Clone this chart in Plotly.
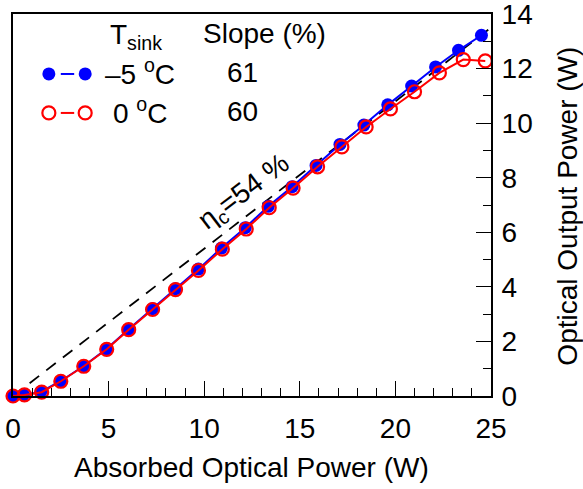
import plotly.graph_objects as go

# -5 C series (blue filled)
x_m5 = [0, 0.55, 1.45, 2.5, 3.7, 4.9, 6.05, 7.3, 8.5, 9.7, 10.9, 12.15, 13.35, 14.6, 15.85, 17.1, 18.35, 19.6, 20.85, 22.1, 23.3, 24.5]
y_m5 = [0, 0.04, 0.15, 0.55, 1.1, 1.73, 2.45, 3.2, 3.93, 4.65, 5.42, 6.17, 6.95, 7.67, 8.45, 9.22, 9.93, 10.67, 11.36, 12.06, 12.67, 13.22]
# 0 C series (red open)
x_0 = [0, 0.6, 1.5, 2.5, 3.7, 4.9, 6.05, 7.3, 8.5, 9.7, 10.95, 12.2, 13.4, 14.65, 15.93, 17.2, 18.47, 19.74, 21.0, 22.3, 23.55, 24.7]
y_0 = [0, 0.04, 0.14, 0.54, 1.09, 1.71, 2.43, 3.17, 3.9, 4.6, 5.38, 6.12, 6.9, 7.62, 8.4, 9.13, 9.86, 10.52, 11.15, 11.84, 12.33, 12.28]
# Carnot-like efficiency line
eta_c = 0.54
x_eta = [0, 25]
y_eta = [eta_c * v for v in x_eta]

series_names = ["\u20135 <sup>o</sup>C", "0 <sup>o</sup>C"]
slopes = ["61", "60"]

FONT = "Liberation Sans, Arial, sans-serif"
FS = 28

red_open = dict(color="rgba(255,255,255,0)", size=13, symbol="circle",
                line=dict(color="red", width=2.2))

fig = go.Figure()

fig.add_trace(go.Scatter(x=x_eta, y=y_eta, mode="lines",
                         line=dict(color="black", width=1.8, dash="12px,9px"),
                         showlegend=False, cliponaxis=False))
fig.add_trace(go.Scatter(x=x_m5, y=y_m5, mode="lines+markers",
                         line=dict(color="blue", width=2),
                         marker=dict(color="blue", size=13, symbol="circle"),
                         showlegend=False, cliponaxis=False))
fig.add_trace(go.Scatter(x=x_0, y=y_0, mode="lines+markers",
                         line=dict(color="red", width=2),
                         marker=red_open,
                         showlegend=False, cliponaxis=False))

# legend symbols on hidden overlay axes (0..1 like paper)
leg_x_marks = [0.075, 0.151]
leg_x_seg = [0.1, 0.128]
leg_y = [0.843, 0.741]
fig.add_trace(go.Scatter(x=leg_x_seg, y=[leg_y[0]] * 2, mode="lines",
                         line=dict(color="blue", width=2), xaxis="x2", yaxis="y2",
                         showlegend=False, cliponaxis=False))
fig.add_trace(go.Scatter(x=leg_x_marks, y=[leg_y[0]] * 2, mode="markers",
                         marker=dict(color="blue", size=13), xaxis="x2", yaxis="y2",
                         showlegend=False, cliponaxis=False))
fig.add_trace(go.Scatter(x=leg_x_seg, y=[leg_y[1]] * 2, mode="lines",
                         line=dict(color="red", width=2), xaxis="x2", yaxis="y2",
                         showlegend=False, cliponaxis=False))
fig.add_trace(go.Scatter(x=leg_x_marks, y=[leg_y[1]] * 2, mode="markers",
                         marker=red_open, xaxis="x2", yaxis="y2",
                         showlegend=False, cliponaxis=False))

ann = []
ann.append(dict(text="T<sub>sink</sub>", x=0.199, y=0.94, xref="paper", yref="paper",
                xanchor="left", yanchor="middle", showarrow=False))
ann.append(dict(text="Slope (%)", x=0.394, y=0.95, xref="paper", yref="paper",
                xanchor="left", yanchor="middle", showarrow=False))
ann.append(dict(text=series_names[0], x=0.188, y=leg_y[0] + 0.005, xref="paper", yref="paper",
                xanchor="left", yanchor="middle", showarrow=False))
ann.append(dict(text=series_names[1], x=0.205, y=leg_y[1] + 0.005, xref="paper", yref="paper",
                xanchor="left", yanchor="middle", showarrow=False))
for i in range(2):
    ann.append(dict(text=slopes[i], x=0.481, y=leg_y[i] + 0.003, xref="paper", yref="paper",
                    xanchor="center", yanchor="middle", showarrow=False))
ann.append(dict(text="\u03b7<sub>c</sub>=54 %", x=12.14, y=7.44, xref="x", yref="y",
                textangle=-37, showarrow=False, xanchor="center", yanchor="middle"))
ann.append(dict(text="Optical Output Power (W)", x=1.160, y=0.497, xref="paper", yref="paper",
                textangle=-90, showarrow=False, xanchor="center", yanchor="middle"))
ann.append(dict(text="Absorbed Optical Power (W)", x=0.498, y=-0.186, xref="paper", yref="paper",
                showarrow=False, xanchor="center", yanchor="middle"))

fig.update_layout(
    width=583, height=489,
    margin=dict(l=13, r=92, t=14, b=93, autoexpand=False),
    paper_bgcolor="white", plot_bgcolor="white",
    font=dict(family=FONT, size=FS, color="black"),
    showlegend=False,
    annotations=ann,
    xaxis=dict(range=[0, 25], dtick=5, tick0=0, ticks="inside", ticklen=15, tickwidth=1.2,
               tickcolor="black", showline=True, linecolor="black", linewidth=2, mirror=True,
               showgrid=False, zeroline=False, automargin=False, ticklabelstandoff=6,
               ticklabeloverflow="allow",
               minor=dict(dtick=1, ticks="inside", ticklen=8, tickwidth=1.2, tickcolor="black")),
    yaxis=dict(range=[0, 14], dtick=2, tick0=0, side="right", ticks="inside", ticklen=15,
               tickwidth=1.2, tickcolor="black", showline=True, linecolor="black", linewidth=2,
               mirror=True, showgrid=False, zeroline=False, automargin=False, ticklabelstandoff=3,
               ticklabeloverflow="allow",
               minor=dict(dtick=1, ticks="inside", ticklen=8, tickwidth=1.2, tickcolor="black")),
    xaxis2=dict(range=[0, 1], overlaying="x", visible=False, anchor="y2"),
    yaxis2=dict(range=[0, 1], overlaying="y", visible=False, anchor="x2"),
)

fig.write_html("out.html", config={"displayModeBar": False},
               post_script="document.body.style.margin='0';document.body.style.overflow='hidden';")
